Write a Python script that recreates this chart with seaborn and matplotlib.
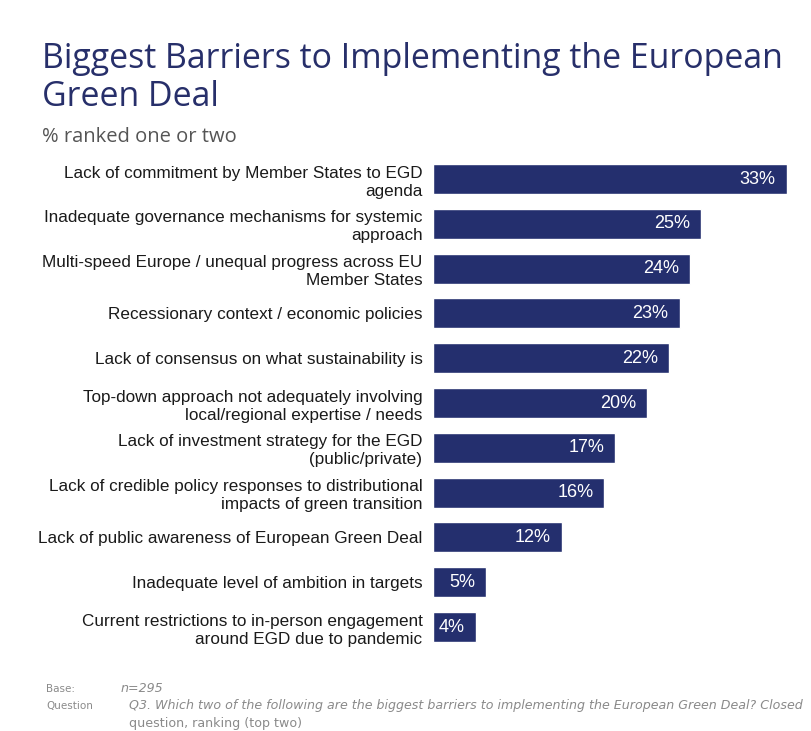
import matplotlib
matplotlib.use("Agg")
import matplotlib.pyplot as plt
import seaborn as sns
import pandas as pd

barriers = [
    "Lack of commitment by Member States to EGD\nagenda",
    "Inadequate governance mechanisms for systemic\napproach",
    "Multi-speed Europe / unequal progress across EU\nMember States",
    "Recessionary context / economic policies",
    "Lack of consensus on what sustainability is",
    "Top-down approach not adequately involving\nlocal/regional expertise / needs",
    "Lack of investment strategy for the EGD\n(public/private)",
    "Lack of credible policy responses to distributional\nimpacts of green transition",
    "Lack of public awareness of European Green Deal",
    "Inadequate level of ambition in targets",
    "Current restrictions to in-person engagement\naround EGD due to pandemic",
]
share_pct = [33, 25, 24, 23, 22, 20, 17, 16, 12, 5, 4]

NAVY = "#242f6e"
TITLE_NAVY = "#272f6a"

df = pd.DataFrame({"barrier": barriers, "share": share_pct})

sns.set_theme(style="white")
plt.rcParams["font.family"] = ["Liberation Sans", "DejaVu Sans"]

fig = plt.figure(figsize=(8.12, 7.31), dpi=100)
ax = fig.add_axes([0.533, 0.1116, 0.436, 0.674])

sns.barplot(data=df, x="share", y="barrier", orient="h", color=NAVY,
            saturation=1, width=0.67, ax=ax)

ax.set_xlim(0, 33)
ax.set_xlabel("")
ax.set_ylabel("")
ax.set_xticks([])
for s in ax.spines.values():
    s.set_visible(False)
ax.tick_params(axis="y", length=0, pad=7.5, labelsize=12.3, labelcolor="#1a1a1a")
for lbl in ax.get_yticklabels():
    lbl.set_linespacing(1.25)
    lbl.set_horizontalalignment("right")

for i, v in enumerate(share_pct):
    ax.annotate(f"{v}%", xy=(v, i), xytext=(-8, 0), textcoords="offset points",
                ha="right", va="center", color="white", fontsize=13)

# Title block
title_kw = dict(fontsize=24.4, color=TITLE_NAVY, ha="left", va="baseline",
                family=["Open Sans", "DejaVu Sans"])
fig.text(42 / 812, 1 - 68 / 731, "Biggest Barriers to Implementing the European", **title_kw)
fig.text(42 / 812, 1 - 106 / 731, "Green Deal", **title_kw)
fig.text(42 / 812, 1 - 142 / 731, "% ranked one or two",
         fontsize=14.5, color="#555555", ha="left", va="baseline",
         family=["Open Sans", "DejaVu Sans"])

# Footer notes
head = dict(fontsize=7.5, color="#8a8a8a", ha="left", va="baseline",
            family=["DejaVu Sans"])
body = dict(fontsize=9.05, color="#8a8a8a", ha="left", va="baseline",
            family=["DejaVu Sans"])
fig.text(46 / 812, 1 - 692 / 731, "Base:", **head)
fig.text(121 / 812, 1 - 692 / 731, "n=295", style="italic", **body)
fig.text(46 / 812, 1 - 709 / 731, "Question", **head)
fig.text(129 / 812, 1 - 709 / 731,
         "Q3. Which two of the following are the biggest barriers to implementing the European Green Deal? Closed",
         style="italic", **body)
fig.text(129 / 812, 1 - 727 / 731, "question, ranking (top two)", **body)

fig.savefig("out.png", dpi=100, facecolor="white")
